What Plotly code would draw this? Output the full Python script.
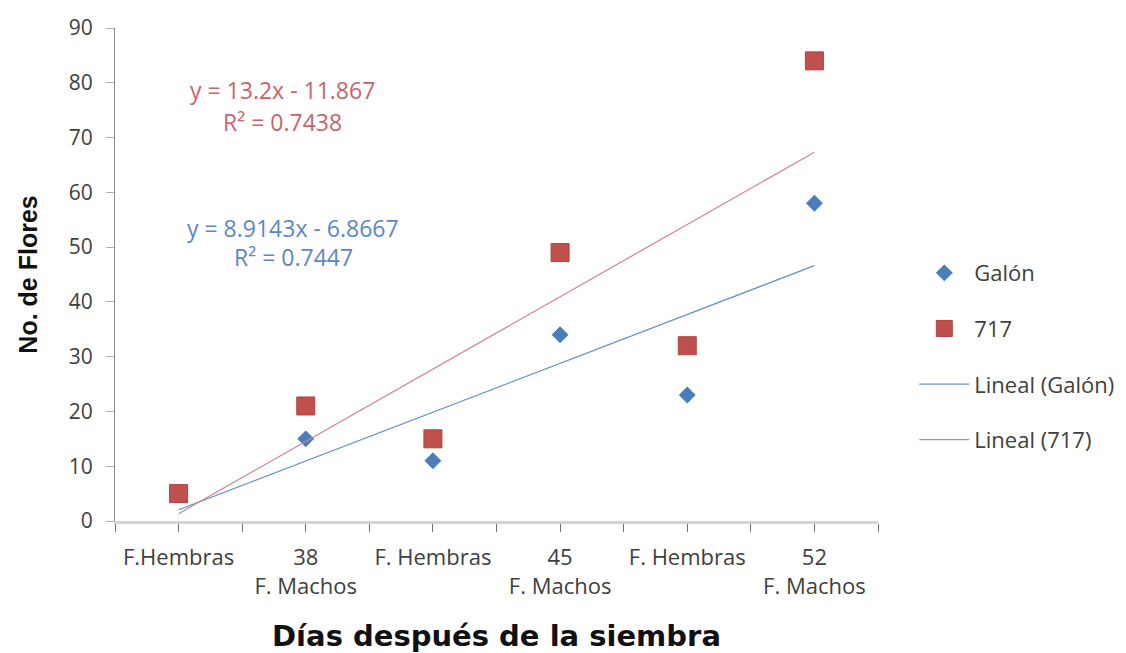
import numpy as np
import plotly.graph_objects as go

# Sampling positions along the x axis and their labels
positions = [1, 2, 3, 4, 5, 6]
tick_labels = ["F.Hembras", "38<br>F. Machos", "F. Hembras",
               "45<br>F. Machos", "F. Hembras", "52<br>F. Machos"]

# Number of flowers per variety
galon = [5, 15, 11, 34, 23, 58]
v717 = [5, 21, 15, 49, 32, 84]

BLUE = "#4a7ebb"
RED = "#c0504d"
TICK_FONT = "Open Sans"


def linear_fit(x, y):
    x = np.asarray(x, float)
    y = np.asarray(y, float)
    slope, intercept = np.polyfit(x, y, 1)
    pred = slope * x + intercept
    r2 = 1 - np.sum((y - pred) ** 2) / np.sum((y - y.mean()) ** 2)
    return slope, intercept, r2


def equation_text(slope, intercept):
    sign = "-" if intercept < 0 else "+"
    return f"y = {slope:.5g}x {sign} {abs(intercept):.5g}"


fig = go.Figure()

fig.add_trace(go.Scatter(
    x=positions, y=galon, mode="markers", name="Galón",
    marker=dict(symbol="diamond", size=13, color=BLUE, line=dict(width=0)),
    legendgroup="a",
))
fig.add_trace(go.Scatter(
    x=positions, y=v717, mode="markers", name="717",
    marker=dict(symbol="square", size=18, color=RED,
                line=dict(width=1, color="#b5403d")),
    legendgroup="b",
))

fits = {}
for name, series, color, grp in [("Galón", galon, "#6891c9", "c"),
                                 ("717", v717, "#d5808a", "d")]:
    s, b, r2 = linear_fit(positions, series)
    fits[name] = (s, b, r2)
    xs = [positions[0], positions[-1]]
    fig.add_trace(go.Scatter(
        x=xs, y=[s * xv + b for xv in xs], mode="lines",
        name=f"Lineal ({name})", legendgroup=grp,
        line=dict(color=color, width=1.2),
    ))

# Trendline equations
EQ_SIZE = 23
s, b, r2 = fits["717"]
fig.add_annotation(x=1.821, y=78.7, text=equation_text(s, b), showarrow=False,
                   font=dict(family=TICK_FONT, size=EQ_SIZE, color="#c9636a"))
fig.add_annotation(x=1.821, y=72.8, text=f"R² = {r2:.4f}", showarrow=False,
                   font=dict(family=TICK_FONT, size=EQ_SIZE, color="#c9636a"))
s, b, r2 = fits["Galón"]
fig.add_annotation(x=1.90, y=53.5, text=equation_text(s, b), showarrow=False,
                   font=dict(family=TICK_FONT, size=EQ_SIZE, color="#5b88c3"))
fig.add_annotation(x=1.90, y=48.2, text=f"R² = {r2:.4f}", showarrow=False,
                   font=dict(family=TICK_FONT, size=EQ_SIZE, color="#5b88c3"))

fig.update_layout(
    width=1126, height=653,
    margin=dict(l=115, r=248, t=28, b=132, autoexpand=False),
    paper_bgcolor="white", plot_bgcolor="white",
    showlegend=True,
    legend=dict(
        xref="container", yref="container",
        x=0.812, y=0.614, xanchor="left", yanchor="top",
        font=dict(family=TICK_FONT, size=22, color="#404040"),
        tracegroupgap=24, traceorder="grouped", itemwidth=50,
        bgcolor="rgba(0,0,0,0)",
    ),
    xaxis=dict(
        range=[0.5, 6.5], tickvals=positions, ticktext=tick_labels,
        showgrid=False, zeroline=False, automargin=False,
        showline=True, linecolor="#d4d4d4", linewidth=3,
        ticks="outside", ticklen=8, tickcolor="#707070", tickwidth=1,
        minor=dict(ticks="outside", tick0=0.5, dtick=1, ticklen=8,
                   tickcolor="#707070", tickwidth=1, showgrid=False),
        tickfont=dict(family=TICK_FONT, size=22, color="#404040"),
        ticklabelstandoff=7,
        title=dict(text="Días después de la siembra", standoff=34,
                   font=dict(family="DejaVu Sans", size=29, color="#111111",
                             weight="bold")),
    ),
    yaxis=dict(
        range=[0, 90], dtick=10, showgrid=False, zeroline=False,
        automargin=False,
        showline=True, linecolor="#8a8a8a", linewidth=1,
        ticks="outside", ticklen=8, tickcolor="#b0b0b0",
        tickfont=dict(family=TICK_FONT, size=21, color="#404040"),
        ticklabelstandoff=9,
        title=dict(text="No. de Flores", standoff=24,
                   font=dict(family="Liberation Sans", size=25, color="#111111",
                             weight="bold")),
    ),
)

fig.write_html("out.html")
